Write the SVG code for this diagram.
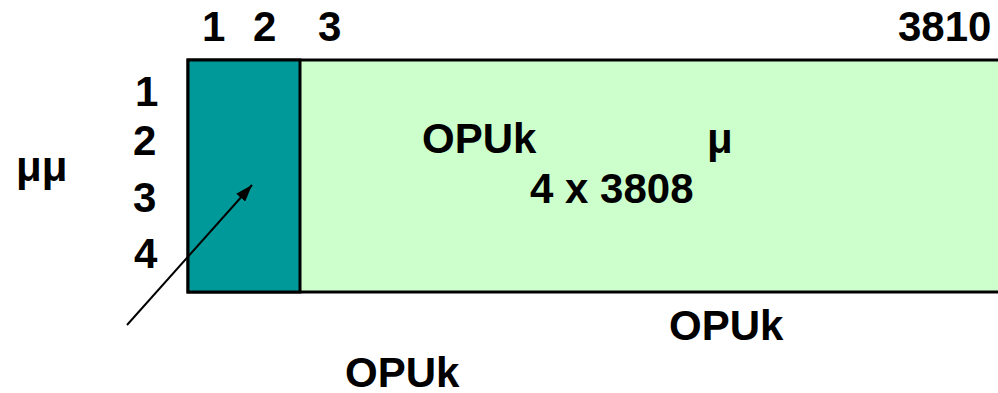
<svg xmlns="http://www.w3.org/2000/svg" width="998" height="393" viewBox="0 0 998 393">
  <style>
    .lbl { font-family: "Liberation Sans", Arial, sans-serif; font-weight: bold; font-size: 42px; fill: #000; }
    .frame { stroke: #000; stroke-width: 3; }
  </style>
  <defs>
    <marker id="head" viewBox="0 0 17 12" refX="17" refY="6" markerWidth="17" markerHeight="12" markerUnits="userSpaceOnUse" orient="auto">
      <path d="M0,0 L17,6 L0,12 z" fill="#000"/>
    </marker>
  </defs>
  <rect width="998" height="393" fill="#fff"/>

  <!-- payload area (columns 3..3810) -->
  <g id="payload">
    <rect class="frame" x="188" y="60" width="830" height="232" fill="#CCFFCC"/>
    <text class="lbl" x="422" y="153">OPUk</text>
    <text class="lbl" x="707" y="153">μ</text>
    <text class="lbl" x="530" y="203">4 x 3808</text>
  </g>

  <!-- overhead area (columns 1..2) -->
  <g id="overhead">
    <rect class="frame" x="188" y="60" width="112" height="232" fill="#009999"/>
  </g>

  <!-- column numbers -->
  <g id="columns">
    <text class="lbl" x="202" y="41">1</text>
    <text class="lbl" x="253" y="41">2</text>
    <text class="lbl" x="318" y="41">3</text>
    <text class="lbl" x="898" y="41">3810</text>
  </g>

  <!-- row numbers -->
  <g id="rows">
    <text class="lbl" x="135" y="106">1</text>
    <text class="lbl" x="133" y="155">2</text>
    <text class="lbl" x="133" y="212">3</text>
    <text class="lbl" x="134" y="268">4</text>
    <text class="lbl" x="16" y="181">μμ</text>
  </g>

  <!-- captions below the frame -->
  <g id="captions">
    <text class="lbl" x="669" y="340">OPUk</text>
    <text class="lbl" x="345" y="387">OPUk</text>
  </g>

  <!-- pointer into the overhead area -->
  <g id="connectors">
    <line x1="127" y1="325" x2="252" y2="185" stroke="#000" stroke-width="2" marker-end="url(#head)"/>
  </g>
</svg>
